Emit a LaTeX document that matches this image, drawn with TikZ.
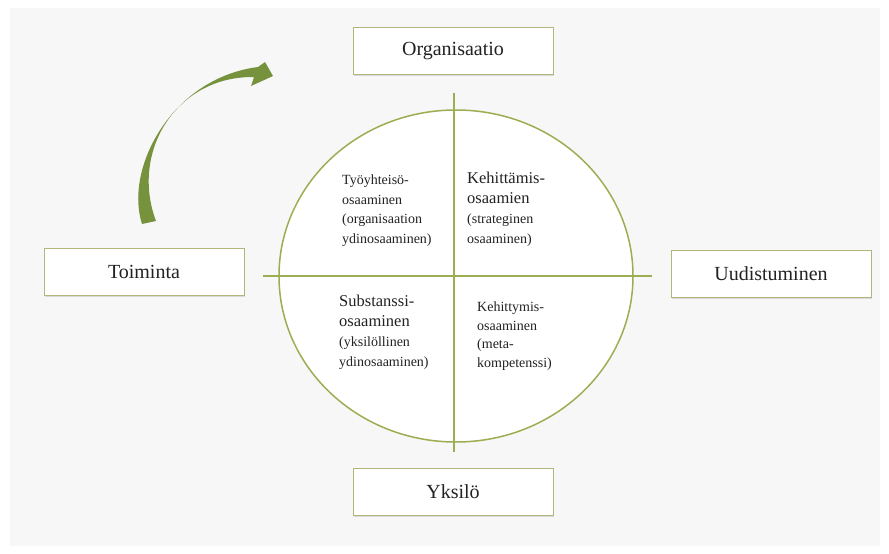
\documentclass[tikz,border=0pt]{standalone}
\usepackage{fontspec}
\setmainfont{Liberation Serif}
\usetikzlibrary{shapes.geometric,shadows}
\definecolor{panel}{HTML}{F7F7F7}
\definecolor{boxline}{HTML}{B3B57A}
\definecolor{axis}{HTML}{9CAE52}
\definecolor{arrowgreen}{HTML}{76923C}
\definecolor{ink}{HTML}{222222}
\newcommand{\bigline}[1]{{\fontsize{16.5}{20}\selectfont #1}}
\newcommand{\smallline}[1]{{\fontsize{14}{20}\selectfont #1}}
\begin{document}
\begin{tikzpicture}[x=1pt,y=-1pt,
  labelbox/.style={draw=boxline, line width=0.9pt, fill=white,
    minimum width=200pt, minimum height=47pt, inner sep=0pt,
    drop shadow={shadow xshift=1pt, shadow yshift=-1.5pt, opacity=0.25},
    font=\fontsize{20}{24}\selectfont, text=ink},
  quad/.style={anchor=north west, align=left, inner sep=0pt, text=ink,
    font=\fontsize{14}{20}\selectfont},
  axisline/.style={draw=axis, line width=1.6pt}]

% page and background panel
\useasboundingbox (0,0) rectangle (889,554);
\fill[white] (0,0) rectangle (889,554);
\fill[panel] (10,8) rectangle (880,546);

% central ellipse and its two axes
\node[ellipse, draw=axis, line width=1.5pt, fill=white,
      minimum width=354pt, minimum height=332pt, inner sep=0pt] (circ) at (456,276) {};
\coordinate (top) at (454,93);
\coordinate (bottom) at (454,452);
\coordinate (left) at (263,276);
\coordinate (right) at (652,276);
\draw[axisline] (top) -- (bottom);
\draw[axisline] (left) -- (right);

% quadrant texts
\node[quad, font=\fontsize{14}{19.5}\selectfont] (q1) at (342,175)
  {Työyhteisö-\\osaaminen\\(organisaation\\ydinosaaminen)};
\node[quad] (q2) at (467,172)
  {\bigline{Kehittämis-}\\\bigline{osaamien}\\\smallline{(strateginen}\\\smallline{osaaminen)}};
\node[quad] (q3) at (339,295)
  {\bigline{Substanssi-}\\\bigline{osaaminen}\\\smallline{(yksilöllinen}\\\smallline{ydinosaaminen)}};
\node[quad, font=\fontsize{14}{18.5}\selectfont] (q4) at (477,302)
  {Kehittymis-\\osaaminen\\(meta-\\kompetenssi)};

% the four labelled boxes
\node[labelbox] (org) at (453,51) {Organisaatio};
\node[labelbox] (yks) at (453,492) {Yksilö};
\node[labelbox] (toim) at (144,272) {Toiminta};
\node[labelbox] (uud) at (771,274) {Uudistuminen};

% curved arrow from Toiminta towards Organisaatio
\fill[arrowgreen]
  (142,224) .. controls (124,168) and (172,78) .. (258,67)
  -- (265,62) -- (273,76) -- (251,86) -- (254,77)
  .. controls (176,76) and (130,152) .. (156,221) -- cycle;
\end{tikzpicture}
\end{document}
